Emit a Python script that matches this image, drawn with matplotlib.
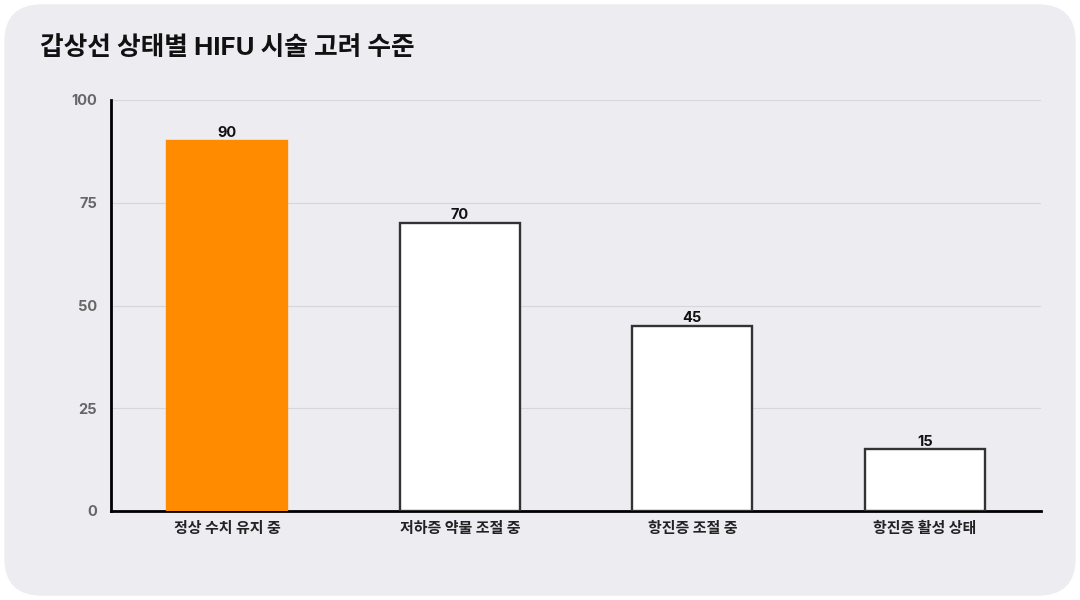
import matplotlib.pyplot as plt
from matplotlib.patches import FancyBboxPatch

plt.rcParams['font.family'] = ['Inter', 'Noto Sans CJK KR', 'DejaVu Sans']

categories = ["정상 수치 유지 중", "저하증 약물 조절 중", "항진증 조절 중", "항진증 활성 상태"]
values = [90, 70, 45, 15]
colors = ["#FF8C00", "#FFFFFF", "#FFFFFF", "#FFFFFF"]
edges = ["#FF8C00", "#333333", "#333333", "#333333"]
yticks = [0, 25, 50, 75, 100]

fig = plt.figure(figsize=(10.8, 6.0), dpi=100)
fig.patch.set_facecolor("white")
card = FancyBboxPatch((0.004, 0.007), 0.992, 0.986, boxstyle="round,pad=0,rounding_size=0.035",
                      transform=fig.transFigure, facecolor="#EDECF1", edgecolor="none",
                      mutation_aspect=1.8, zorder=-10)
fig.patches.append(card)

ax = fig.add_axes([111 / 1080, 89 / 600, 930 / 1080, 411 / 600])
ax.set_facecolor("none")

x = range(len(categories))
ax.bar(x, values, width=0.515, color=colors, edgecolor=edges, linewidth=1.7, zorder=3)
for xi, v in zip(x, values):
    ax.text(xi, v + 0.2, str(v), ha="center", va="bottom", fontsize=10.5, fontweight="bold",
            color="#111111", zorder=4)

ax.set_xlim(-0.5, 3.5)
ax.set_ylim(0, 100)
ax.set_yticks(yticks)
ax.set_yticklabels([str(t) for t in yticks], fontsize=10.5, fontweight="bold", color="#666666")
ax.set_xticks(list(x))
ax.set_xticklabels(categories, fontsize=10.8, fontweight="bold", color="#222222")
ax.tick_params(axis="both", length=0)
ax.tick_params(axis="y", pad=10)
ax.tick_params(axis="x", pad=8)
ax.grid(axis="y", color="#D6D6DB", linewidth=0.8, zorder=0)
for s in ["top", "right"]:
    ax.spines[s].set_visible(False)
ax.spines["left"].set_linewidth(2)
ax.spines["bottom"].set_linewidth(2)
ax.spines["left"].set_color("#000000")
ax.spines["bottom"].set_color("#000000")

fig.text(40 / 1080, 1 - 48 / 600, "갑상선 상태별 HIFU 시술 고려 수준", fontsize=18.5, fontweight="bold",
         color="#111111", va="center", ha="left")

fig.savefig("out.png", dpi=100, facecolor=fig.get_facecolor())
